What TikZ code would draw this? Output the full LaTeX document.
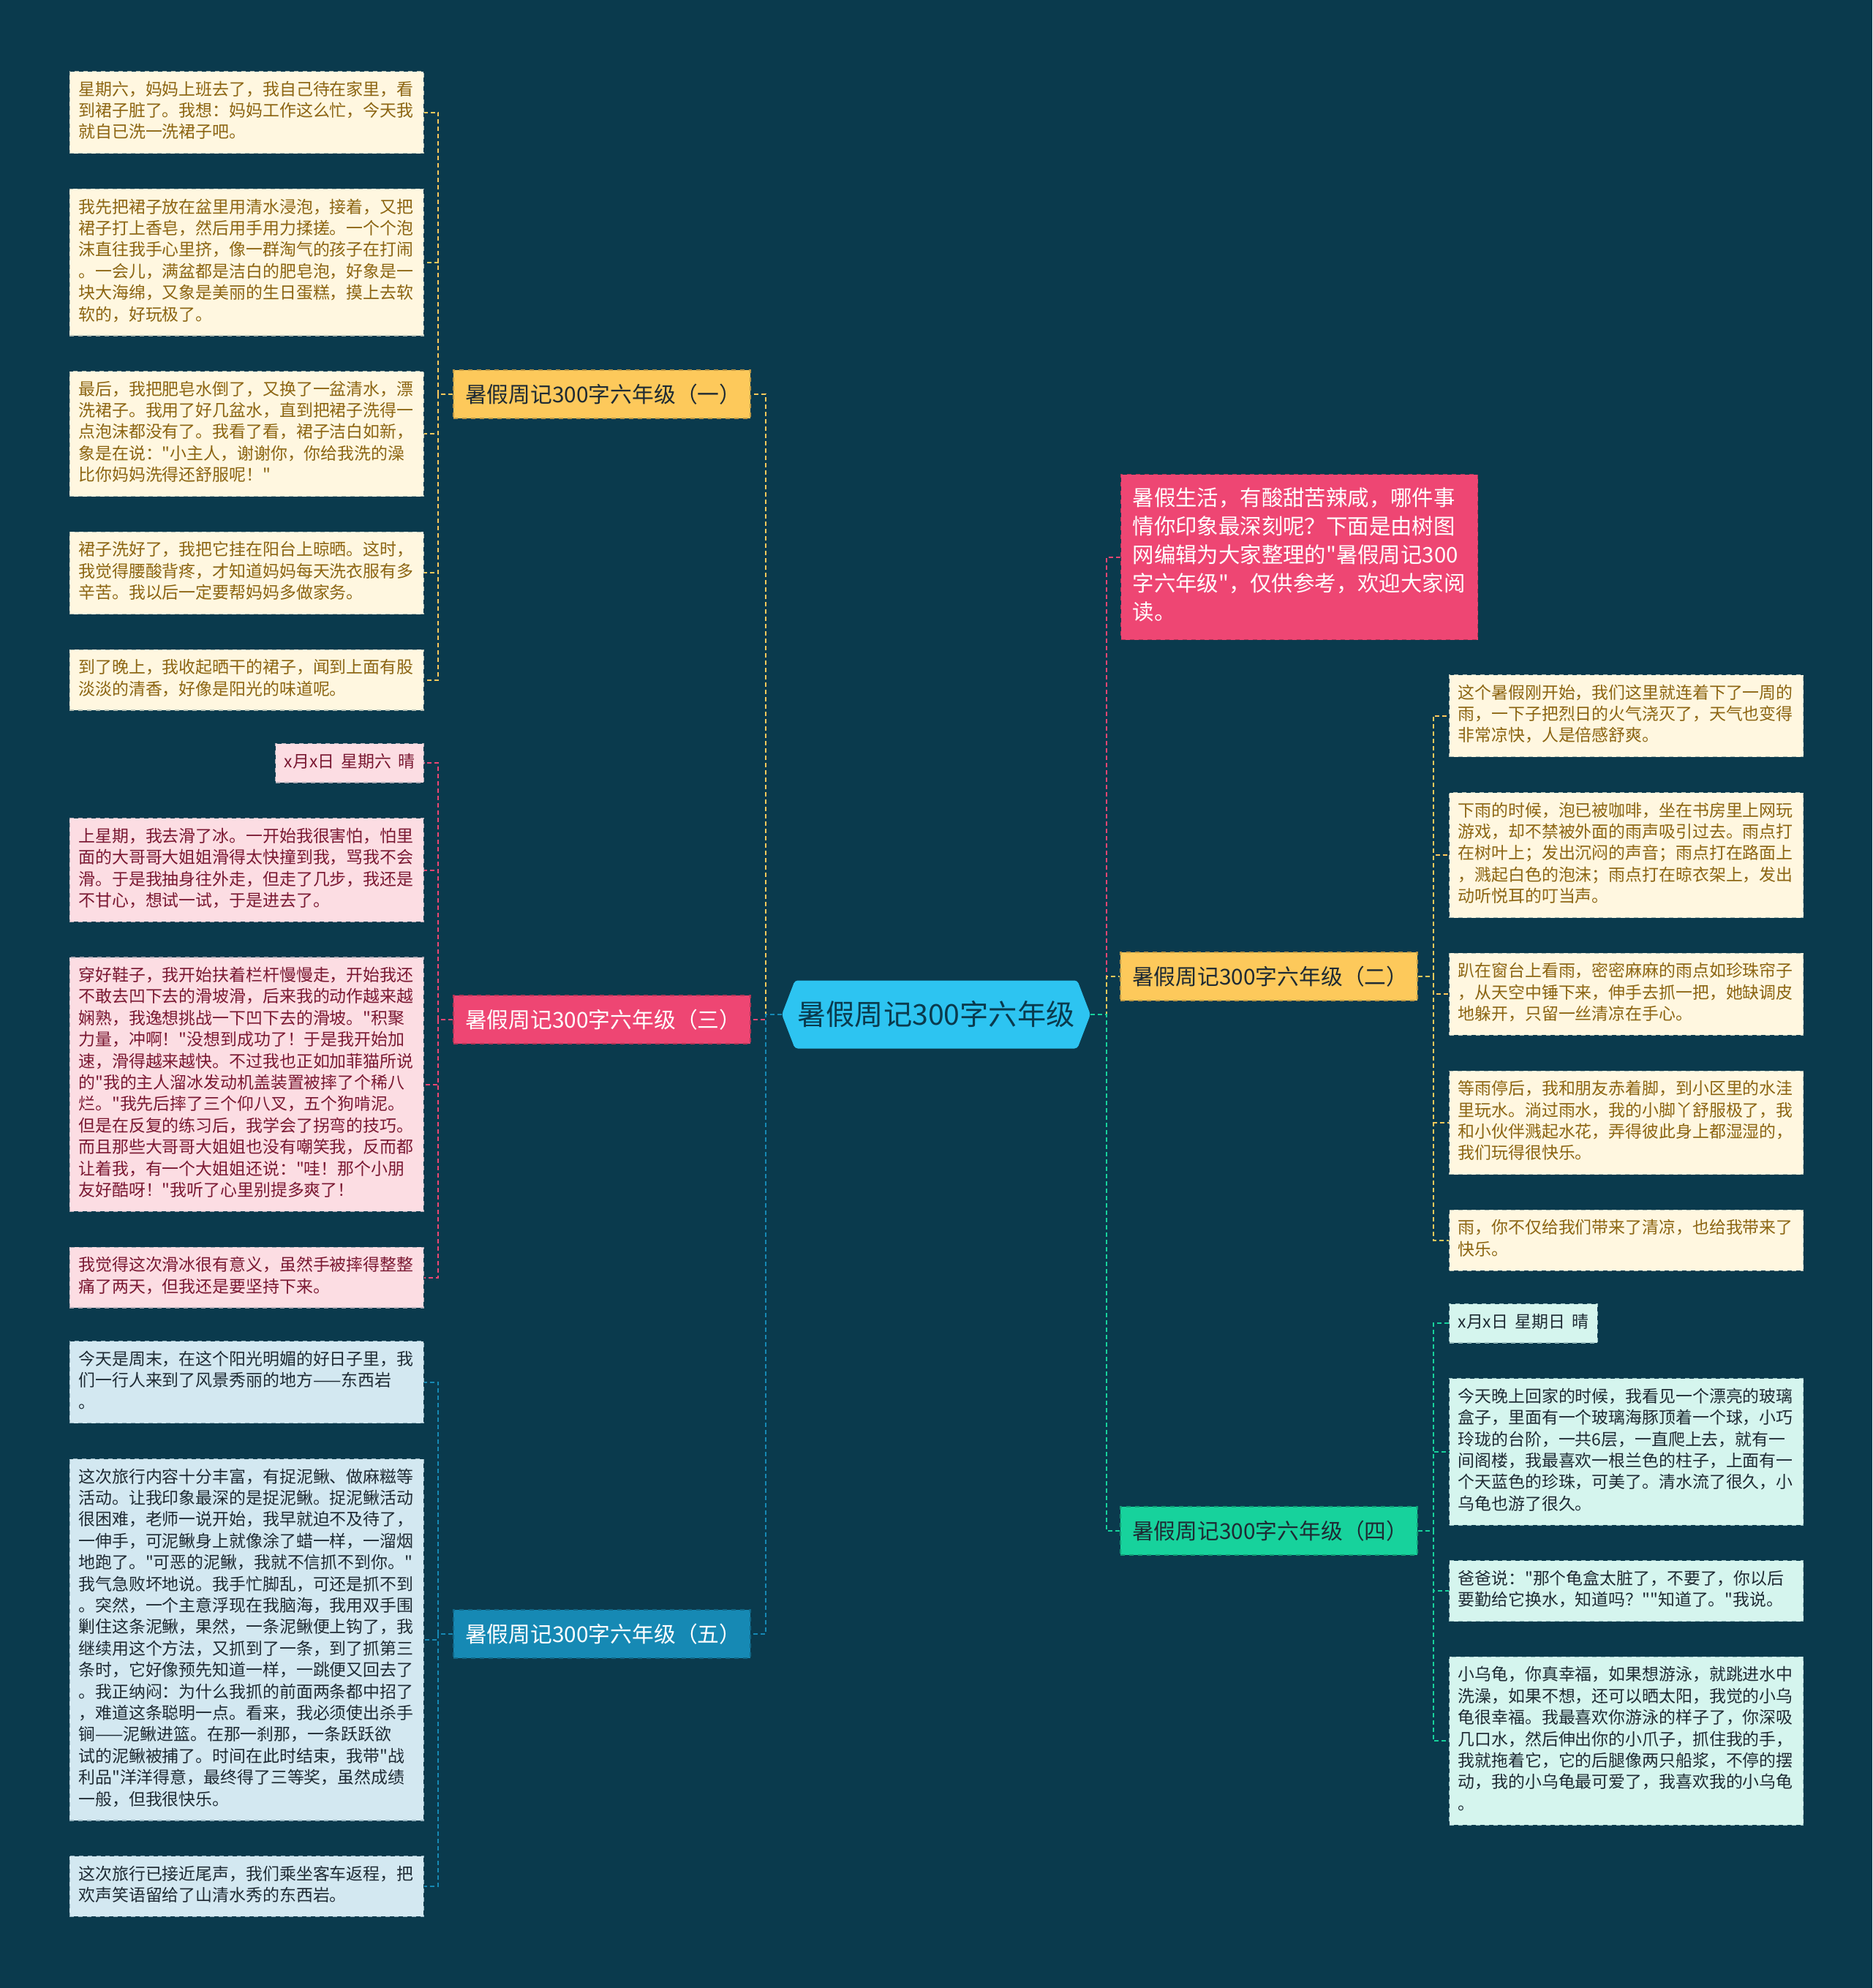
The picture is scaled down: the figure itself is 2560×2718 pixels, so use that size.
\documentclass[tikz,border=0pt]{standalone}
\usepackage{fontspec}
\usepackage{xcolor}
\usepackage{tikz}
\usetikzlibrary{positioning, shapes.symbols}
\newfontfamily\cjk{Noto Sans CJK SC}
\newcommand\leaffont{\cjk\fontsize{11.45pt}{14.7pt}\selectfont}
\newcommand\branchfont{\cjk\fontsize{14.9pt}{17pt}\selectfont}
\newcommand\introfont{\cjk\fontsize{14.7pt}{19.5pt}\selectfont}
\newcommand\hubfont{\cjk\fontsize{19.6pt}{22pt}\selectfont}
\definecolor{bgc}{HTML}{0A3A4D}
\definecolor{hubc}{HTML}{2DC4F1}
\definecolor{yelc}{HTML}{FDC95B}
\definecolor{pnkc}{HTML}{EE4673}
\definecolor{bluc}{HTML}{1689B4}
\definecolor{grnc}{HTML}{17D29C}
\definecolor{creamc}{HTML}{FFF7E0}
\definecolor{rosec}{HTML}{FCDDE3}
\definecolor{skyc}{HTML}{D3E8F1}
\definecolor{mintc}{HTML}{D5F5EE}
\definecolor{brownt}{HTML}{8C6512}
\definecolor{maroont}{HTML}{7A1832}
\definecolor{inkt}{HTML}{1E2A33}
\tikzset{
    conn/.style={draw=#1, line width=1pt, dash pattern=on 3pt off 2pt},
    tag/.style={rectangle, dashed, line width=0.6pt, inner xsep=6pt, inner ysep=6pt, font=\leaffont,
        execute at begin node=\strut, execute at end node=\strut},
    leaf/.style={tag, text width=230pt, align=left},
    ylw/.style={fill=creamc, draw=creamc!70!bgc, text=brownt},
    rse/.style={fill=rosec, draw=rosec!70!bgc, text=maroont},
    sky/.style={fill=skyc, draw=skyc!70!bgc, text=inkt},
    mnt/.style={fill=mintc, draw=mintc!70!bgc, text=inkt},
    branch/.style={rectangle, dashed, line width=0.6pt, minimum height=33pt, text width=187pt,
        inner xsep=8pt, align=left, font=\branchfont},
    hub/.style={shape=signal, signal to=east and west, signal pointer angle=138, fill=hubc,
        minimum width=211pt, minimum height=46.5pt, inner xsep=0pt, rounded corners=2pt,
        text=bgc, font=\hubfont}
}
\begin{document}
\begin{tikzpicture}[x=0.5pt, y=-0.5pt, node distance=23.75pt]
    \fill[bgc] (0,0) rectangle (2560,2718);
    \node (hub) [hub] at (1280,1387) {暑假周记300字六年级};

    \node (b1) [branch, fill=yelc, draw=yelc!75!black, text=inkt] at (823,539) {暑假周记300字六年级（一）};
    \node (b3) [branch, fill=pnkc, draw=pnkc!75!black, text=white] at (823,1394) {暑假周记300字六年级（三）};
    \node (b5) [branch, fill=bluc, draw=bluc!75!black, text=white] at (823,2234) {暑假周记300字六年级（五）};
    \node (b2) [branch, fill=yelc, draw=yelc!75!black, text=inkt] at (1735,1335) {暑假周记300字六年级（二）};
    \node (b4) [branch, fill=grnc, draw=grnc!75!black, text=inkt] at (1735,2093) {暑假周记300字六年级（四）};
    \node (intro) [rectangle, dashed, line width=0.6pt, fill=pnkc, draw=pnkc!75!black, text=white,
        text width=228pt, inner xsep=8pt, inner ysep=7.75pt, align=left, font=\introfont,
        execute at begin node=\strut, execute at end node=\strut, anchor=north west] at (1532,648)
        {暑假生活，有酸甜苦辣咸，哪件事\\情你印象最深刻呢？下面是由树图\\网编辑为大家整理的"暑假周记300\\字六年级"，仅供参考，欢迎大家阅\\读。};

    % (一)
    \node (l1a) [leaf, ylw, anchor=north east] at (580,97)
        {星期六，妈妈上班去了，我自己待在家里，看\\到裙子脏了。我想：妈妈工作这么忙，今天我\\就自已洗一洗裙子吧。};
    \node (l1b) [leaf, ylw, below=of l1a]
        {我先把裙子放在盆里用清水浸泡，接着，又把\\裙子打上香皂，然后用手用力揉搓。一个个泡\\沫直往我手心里挤，像一群淘气的孩子在打闹\\。一会儿，满盆都是洁白的肥皂泡，好象是一\\块大海绵，又象是美丽的生日蛋糕，摸上去软\\软的，好玩极了。};
    \node (l1c) [leaf, ylw, below=of l1b]
        {最后，我把肥皂水倒了，又换了一盆清水，漂\\洗裙子。我用了好几盆水，直到把裙子洗得一\\点泡沫都没有了。我看了看，裙子洁白如新，\\象是在说："小主人，谢谢你，你给我洗的澡\\比你妈妈洗得还舒服呢！"};
    \node (l1d) [leaf, ylw, below=of l1c]
        {裙子洗好了，我把它挂在阳台上晾晒。这时，\\我觉得腰酸背疼，才知道妈妈每天洗衣服有多\\辛苦。我以后一定要帮妈妈多做家务。};
    \node (l1e) [leaf, ylw, below=of l1d]
        {到了晚上，我收起晒干的裙子，闻到上面有股\\淡淡的清香，好像是阳光的味道呢。};

    % (三)
    \node (d3) [tag, rse, anchor=north east] at (580,1016) {x月x日\hspace{.4em}星期六\hspace{.4em}晴};
    \node (l3b) [leaf, rse, below=of d3.south east, anchor=north east]
        {上星期，我去滑了冰。一开始我很害怕，怕里\\面的大哥哥大姐姐滑得太快撞到我，骂我不会\\滑。于是我抽身往外走，但走了几步，我还是\\不甘心，想试一试，于是进去了。};
    \node (l3c) [leaf, rse, below=of l3b]
        {穿好鞋子，我开始扶着栏杆慢慢走，开始我还\\不敢去凹下去的滑坡滑，后来我的动作越来越\\娴熟，我逸想挑战一下凹下去的滑坡。"积聚\\力量，冲啊！"没想到成功了！于是我开始加\\速，滑得越来越快。不过我也正如加菲猫所说\\的"我的主人溜冰发动机盖装置被摔了个稀八\\烂。"我先后摔了三个仰八叉，五个狗啃泥。\\但是在反复的练习后，我学会了拐弯的技巧。\\而且那些大哥哥大姐姐也没有嘲笑我，反而都\\让着我，有一个大姐姐还说："哇！那个小朋\\友好酷呀！"我听了心里别提多爽了！};
    \node (l3d) [leaf, rse, below=of l3c]
        {我觉得这次滑冰很有意义，虽然手被摔得整整\\痛了两天，但我还是要坚持下来。};

    % (五)
    \node (l5a) [leaf, sky, anchor=north east] at (580,1833)
        {今天是周末，在这个阳光明媚的好日子里，我\\们一行人来到了风景秀丽的地方——东西岩\\。};
    \node (l5b) [leaf, sky, below=of l5a]
        {这次旅行内容十分丰富，有捉泥鳅、做麻糍等\\活动。让我印象最深的是捉泥鳅。捉泥鳅活动\\很困难，老师一说开始，我早就迫不及待了，\\一伸手，可泥鳅身上就像涂了蜡一样，一溜烟\\地跑了。"可恶的泥鳅，我就不信抓不到你。"\\我气急败坏地说。我手忙脚乱，可还是抓不到\\。突然，一个主意浮现在我脑海，我用双手围\\剿住这条泥鳅，果然，一条泥鳅便上钩了，我\\继续用这个方法，又抓到了一条，到了抓第三\\条时，它好像预先知道一样，一跳便又回去了\\。我正纳闷：为什么我抓的前面两条都中招了\\，难道这条聪明一点。看来，我必须使出杀手\\锏——泥鳅进篮。在那一刹那，一条跃跃欲\\试的泥鳅被捕了。时间在此时结束，我带"战\\利品"洋洋得意，最终得了三等奖，虽然成绩\\一般，但我很快乐。};
    \node (l5c) [leaf, sky, below=of l5b]
        {这次旅行已接近尾声，我们乘坐客车返程，把\\欢声笑语留给了山清水秀的东西岩。};

    % (二)
    \node (r2a) [leaf, ylw, anchor=north west] at (1981,922)
        {这个暑假刚开始，我们这里就连着下了一周的\\雨，一下子把烈日的火气浇灭了，天气也变得\\非常凉快，人是倍感舒爽。};
    \node (r2b) [leaf, ylw, below=of r2a]
        {下雨的时候，泡已被咖啡，坐在书房里上网玩\\游戏，却不禁被外面的雨声吸引过去。雨点打\\在树叶上；发出沉闷的声音；雨点打在路面上\\，溅起白色的泡沫；雨点打在晾衣架上，发出\\动听悦耳的叮当声。};
    \node (r2c) [leaf, ylw, below=of r2b]
        {趴在窗台上看雨，密密麻麻的雨点如珍珠帘子\\，从天空中锤下来，伸手去抓一把，她缺调皮\\地躲开，只留一丝清凉在手心。};
    \node (r2d) [leaf, ylw, below=of r2c]
        {等雨停后，我和朋友赤着脚，到小区里的水洼\\里玩水。淌过雨水，我的小脚丫舒服极了，我\\和小伙伴溅起水花，弄得彼此身上都湿湿的，\\我们玩得很快乐。};
    \node (r2e) [leaf, ylw, below=of r2d]
        {雨，你不仅给我们带来了清凉，也给我带来了\\快乐。};

    % (四)
    \node (d4) [tag, mnt, anchor=north west] at (1981,1782) {x月x日\hspace{.4em}星期日\hspace{.4em}晴};
    \node (r4b) [leaf, mnt, below=of d4.south west, anchor=north west]
        {今天晚上回家的时候，我看见一个漂亮的玻璃\\盒子，里面有一个玻璃海豚顶着一个球，小巧\\玲珑的台阶，一共6层，一直爬上去，就有一\\间阁楼，我最喜欢一根兰色的柱子，上面有一\\个天蓝色的珍珠，可美了。清水流了很久，小\\乌龟也游了很久。};
    \node (r4c) [leaf, mnt, below=of r4b]
        {爸爸说："那个龟盒太脏了，不要了，你以后\\要勤给它换水，知道吗？""知道了。"我说。};
    \node (r4d) [leaf, mnt, below=of r4c]
        {小乌龟，你真幸福，如果想游泳，就跳进水中\\洗澡，如果不想，还可以晒太阳，我觉的小乌\\龟很幸福。我最喜欢你游泳的样子了，你深吸\\几口水，然后伸出你的小爪子，抓住我的手，\\我就拖着它，它的后腿像两只船浆，不停的摆\\动，我的小乌龟最可爱了，我喜欢我的小乌龟\\。};

    % connectors
    \coordinate (hl) at ([xshift=-11pt]hub.west);
    \coordinate (hr) at ([xshift=11pt]hub.east);
    \draw [conn=yelc] (hub.west) -- (hl) |- (b1.east);
    \draw [conn=pnkc] (hub.west) -- (hl) |- (b3.east);
    \draw [conn=bluc] (hub.west) -- (hl) |- (b5.east);
    \draw [conn=pnkc] (hub.east) -- (hr) |- (intro.west);
    \draw [conn=yelc] (hub.east) -- (hr) |- (b2.west);
    \draw [conn=grnc] (hub.east) -- (hr) |- (b4.west);

    \coordinate (s1) at ([xshift=-10pt]b1.west);
    \coordinate (s3) at ([xshift=-10pt]b3.west);
    \coordinate (s5) at ([xshift=-10pt]b5.west);
    \coordinate (s2) at ([xshift=10.5pt]b2.east);
    \coordinate (s4) at ([xshift=10.5pt]b4.east);
    \foreach \n in {l1a,l1b,l1c,l1d,l1e}
        \draw [conn=yelc] (b1.west) -- (s1) |- (\n.east);
    \foreach \n in {d3,l3b,l3c,l3d}
        \draw [conn=pnkc] (b3.west) -- (s3) |- (\n.east);
    \foreach \n in {l5a,l5b,l5c}
        \draw [conn=bluc] (b5.west) -- (s5) |- (\n.east);
    \foreach \n in {r2a,r2b,r2c,r2d,r2e}
        \draw [conn=yelc] (b2.east) -- (s2) |- (\n.west);
    \foreach \n in {d4,r4b,r4c,r4d}
        \draw [conn=grnc] (b4.east) -- (s4) |- (\n.west);
\end{tikzpicture}
\end{document}
